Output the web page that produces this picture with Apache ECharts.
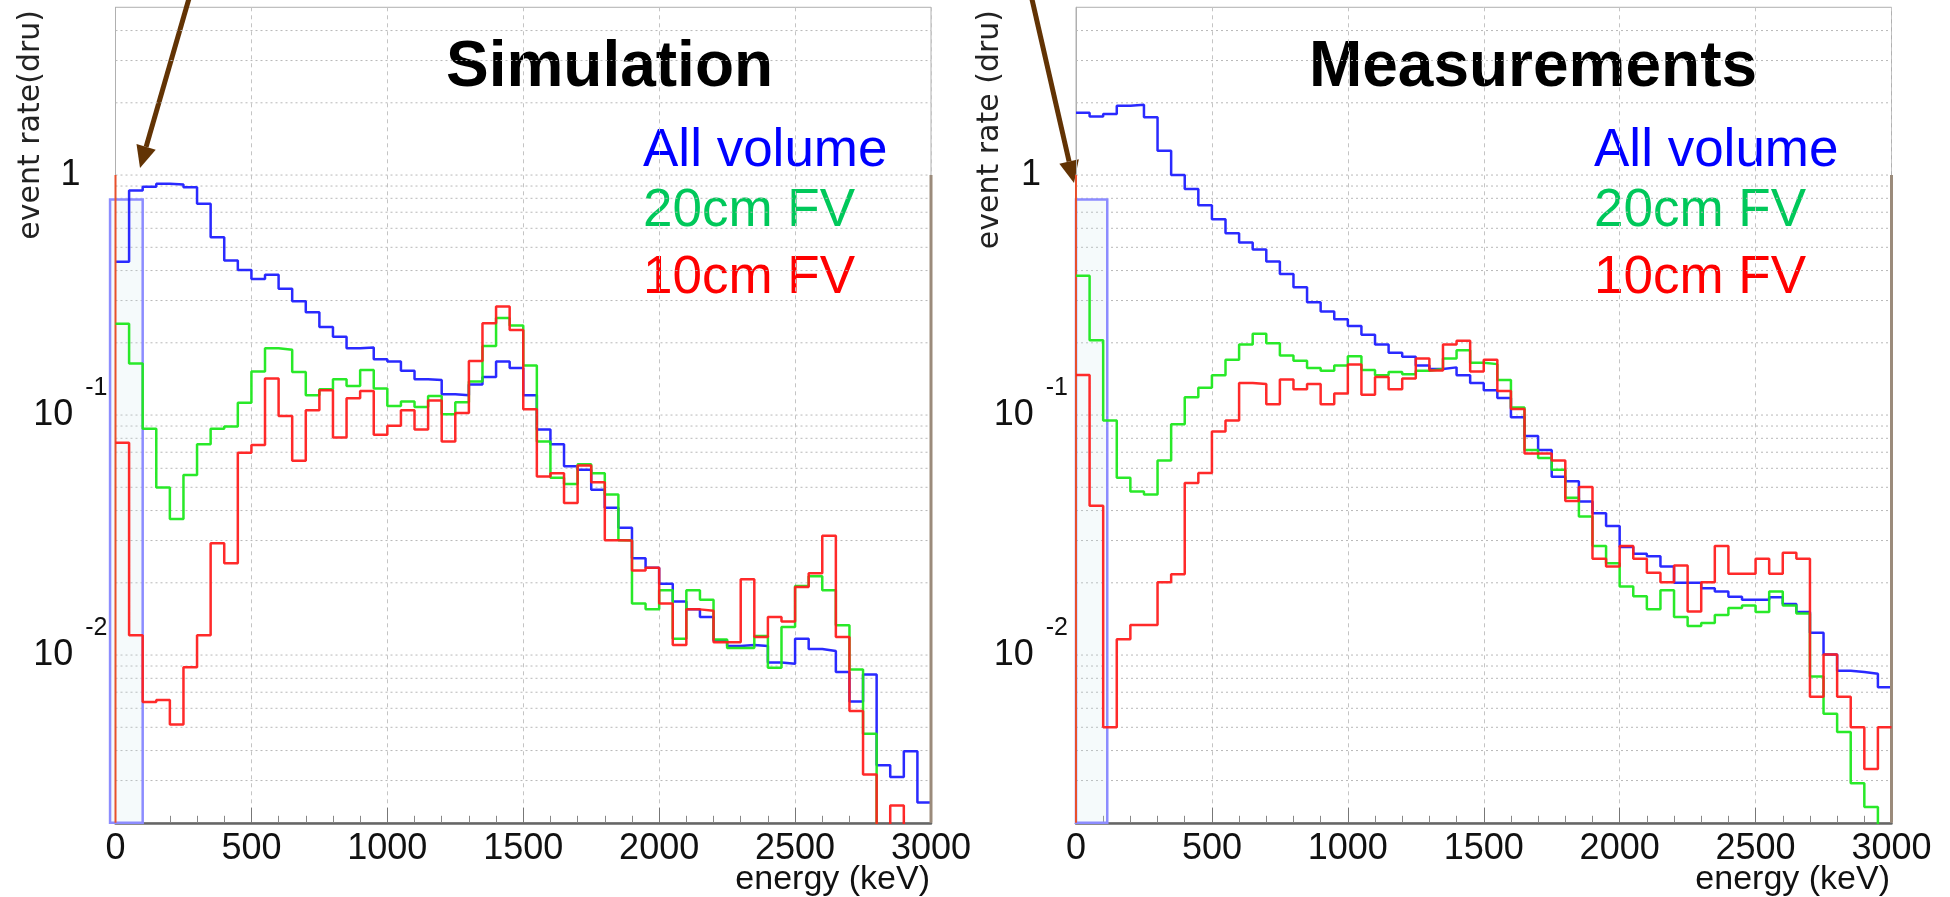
<!DOCTYPE html>
<html>
<head>
<meta charset="utf-8">
<title>event rate vs energy</title>
<script src="https://cdn.jsdelivr.net/npm/echarts@6.0.0/dist/echarts.min.js"></script>
<style>
  html, body { margin: 0; padding: 0; background: #fff; }
  #chart { width: 1950px; height: 897px; }
</style>
</head>
<body>
<div id="chart"></div>
<script>
// histogram bins: 50 keV wide, 0..3000 keV
const BIN = 50;
const X_MIN = 0, X_MAX = 3000;
const Y_MIN = 0.002, Y_MAX = 5;

// Simulation (event rate, dru)
const simAll = [0.435, 0.863, 0.894, 0.921, 0.913, 0.89, 0.759, 0.55, 0.441, 0.402,
  0.369, 0.384, 0.336, 0.298, 0.268, 0.233, 0.212, 0.19, 0.191, 0.171,
  0.167, 0.153, 0.141, 0.14, 0.122, 0.121, 0.134, 0.144, 0.167, 0.157,
  0.121, 0.087, 0.0755, 0.0612, 0.0592, 0.0488, 0.0411, 0.0339, 0.0253, 0.0231,
  0.0198, 0.0167, 0.0155, 0.0144, 0.0115, 0.0109, 0.011, 0.0109, 0.0093, 0.0092,
  0.0117, 0.0106, 0.0104, 0.0085, 0.0064, 0.0083, 0.00347, 0.0031, 0.00397, 0.00243];
const sim20 = [0.24, 0.164, 0.0877, 0.0499, 0.0369, 0.0562, 0.0755, 0.0877, 0.0897, 0.1126,
  0.152, 0.19, 0.187, 0.151, 0.121, 0.128, 0.141, 0.132, 0.154, 0.129,
  0.109, 0.114, 0.108, 0.12, 0.1007, 0.113, 0.138, 0.194, 0.254, 0.236,
  0.161, 0.0776, 0.0548, 0.0516, 0.0624, 0.0572, 0.0467, 0.0301, 0.0164, 0.0155,
  0.0186, 0.0117, 0.0186, 0.017, 0.0116, 0.0107, 0.0107, 0.012, 0.00885, 0.0131,
  0.0194, 0.0213, 0.0186, 0.0133, 0.0087, 0.0047, 0.0015, 0.0015, 0.0015, 0.0015];
const sim10 = [0.0766, 0.0121, 0.00637, 0.0065, 0.00513, 0.00889, 0.0121, 0.0292, 0.0241, 0.0697,
  0.075, 0.142, 0.099, 0.0645, 0.1047, 0.127, 0.0806, 0.1175, 0.126, 0.0828,
  0.0902, 0.1047, 0.0871, 0.115, 0.0776, 0.102, 0.168, 0.2415, 0.283, 0.226,
  0.1057, 0.0555, 0.0572, 0.043, 0.0617, 0.0525, 0.0301, 0.030, 0.0225, 0.0231,
  0.0164, 0.011, 0.0155, 0.0153, 0.0113, 0.0113, 0.0207, 0.0119, 0.0144, 0.0138,
  0.0192, 0.0219, 0.0314, 0.0119, 0.00585, 0.00318, 0.0015, 0.00236, 0.0015, 0.0015];

// Measurements (event rate, dru)
const measAll = [1.82, 1.755, 1.795, 1.946, 1.963, 1.74, 1.264, 1.0, 0.875, 0.748,
  0.654, 0.572, 0.523, 0.489, 0.436, 0.387, 0.341, 0.295, 0.27, 0.251,
  0.235, 0.216, 0.197, 0.182, 0.175, 0.161, 0.1555, 0.158, 0.1466, 0.136,
  0.127, 0.1177, 0.098, 0.0818, 0.0715, 0.0553, 0.053, 0.0436, 0.039, 0.0345,
  0.0282, 0.0264, 0.0258, 0.0234, 0.02, 0.02, 0.019, 0.0184, 0.0175, 0.017,
  0.017, 0.0174, 0.0163, 0.0151, 0.0124, 0.01005, 0.0086, 0.0085, 0.00836, 0.00734];
const meas20 = [0.381, 0.205, 0.0948, 0.0548, 0.048, 0.0467, 0.0647, 0.0916, 0.1187, 0.13,
  0.1466, 0.17, 0.197, 0.218, 0.199, 0.177, 0.1685, 0.157, 0.153, 0.161,
  0.176, 0.154, 0.1466, 0.151, 0.148, 0.153, 0.1555, 0.172, 0.186, 0.165,
  0.163, 0.140, 0.1076, 0.0715, 0.0662, 0.0592, 0.0452, 0.0378, 0.0285, 0.0241,
  0.0193, 0.0176, 0.0155, 0.0186, 0.0144, 0.0132, 0.0136, 0.0147, 0.0157, 0.0161,
  0.0151, 0.0184, 0.0161, 0.0149, 0.00814, 0.00569, 0.00478, 0.00292, 0.00233, 0.0015];
const meas10 = [0.147, 0.0419, 0.005, 0.01164, 0.01333, 0.01333, 0.0201, 0.0217, 0.0521, 0.0574,
  0.0855, 0.0948, 0.136, 0.1346, 0.1109, 0.1406, 0.128, 0.1346, 0.1109, 0.123,
  0.1625, 0.1214, 0.144, 0.128, 0.142, 0.172, 0.1535, 0.197, 0.204, 0.152,
  0.17, 0.126, 0.106, 0.0692, 0.0692, 0.0647, 0.0438, 0.0501, 0.0252, 0.0234,
  0.0285, 0.0252, 0.022, 0.0201, 0.0236, 0.0152, 0.0201, 0.0285, 0.0218, 0.0218,
  0.0252, 0.0218, 0.0267, 0.0252, 0.00671, 0.01005, 0.00671, 0.005, 0.00335, 0.005];

// light blue box over the lowest bins: [x from, x to, top]
const simBox = [[-20, 100, 0.79]];
const measBox = [[0, 115, 0.79]];

// horizontal log grid lines
const yGrid = [0.003, 0.004, 0.005, 0.006, 0.007, 0.008, 0.009,
  0.01, 0.02, 0.03, 0.04, 0.05, 0.06, 0.07, 0.08, 0.09,
  0.1, 0.2, 0.3, 0.4, 0.5, 0.6, 0.7, 0.8, 0.9, 1, 2, 3, 4];

const legendNames = ['All volume', '20cm FV', '10cm FV'];

const FONT = 'Liberation Sans, Arial, Helvetica, sans-serif';
const lineColors = ['#1f1fff', '#1ee81e', '#ff1f1f'];
const legendColors = ['#0000ff', '#00c85a', '#ff0000'];

const histPoints = (vals) => {
  const pts = vals.map((v, i) => [i * BIN, v]);
  pts.push([vals.length * BIN, vals[vals.length - 1]]);
  return pts;
};

const yLabel = (v) => {
  const lg = Math.log10(v);
  const e = Math.round(lg);
  if (Math.abs(lg - e) > 1e-6) return '';
  if (e === 0) return '{one|1}';
  if (e === -1 || e === -2) return '{b|10}{s|' + e + '}';
  return '';
};

const gridBox = (k) => ({
  left: k === 0 ? 115.5 : 1076,
  top: 7.3,
  width: 815.5,
  height: 815.5,
  show: true,
  borderColor: '#b0b0b0',
  borderWidth: 1
});

const xAxisOf = (k) => ({
  type: 'value', gridIndex: k, min: X_MIN, max: X_MAX, interval: 500,
  axisLine: { show: true, lineStyle: { color: '#666', width: 2.5 } },
  axisTick: { show: true, inside: true, length: 15, lineStyle: { color: '#777' } },
  minorTick: { show: true, splitNumber: 5, length: 7, lineStyle: { color: '#888' } },
  axisLabel: { fontSize: 36, color: '#111', fontFamily: FONT, margin: 8, formatter: (v) => String(v) },
  splitLine: { show: true, lineStyle: { color: '#c4c4c4', type: [4, 4], width: 1 } }
});

const yAxisOf = (k) => ({
  type: 'log', logBase: 10, gridIndex: k, min: Y_MIN, max: Y_MAX,
  axisLine: { show: true, lineStyle: { color: '#b0b0b0', width: 1 } },
  axisTick: { show: false },
  splitLine: { show: false },
  axisLabel: {
    margin: 8,
    formatter: yLabel,
    rich: {
      b: { fontSize: 36, lineHeight: 36, fontFamily: FONT, color: '#111', verticalAlign: 'middle' },
      s: { fontSize: 25, lineHeight: 25, fontFamily: FONT, color: '#111', verticalAlign: 'middle', padding: [0, 0, 54, 12] },
      one: { fontSize: 36, lineHeight: 36, fontFamily: FONT, color: '#111', padding: [0, 27, 0, 0] }
    }
  }
});

const gridLineSeries = (k) => ({
  type: 'custom', xAxisIndex: k, yAxisIndex: k, silent: true, z: 1,
  data: yGrid.map(v => [X_MIN, v]),
  encode: { x: 0, y: 1 },
  renderItem: (params, api) => {
    const a = api.coord([X_MIN, api.value(1)]);
    const b = api.coord([X_MAX, api.value(1)]);
    return {
      type: 'line',
      shape: { x1: a[0], y1: a[1], x2: b[0], y2: b[1] },
      style: { stroke: '#b8b8b8', lineWidth: 1, lineDash: [2, 3] }
    };
  }
});

const boxSeries = (k, box) => ({
  type: 'custom', xAxisIndex: k, yAxisIndex: k, silent: true, z: 2,
  data: box,
  encode: { x: [0, 1], y: 2 },
  renderItem: (params, api) => {
    const p0 = api.coord([api.value(0), Y_MIN]);
    const p1 = api.coord([api.value(1), api.value(2)]);
    return {
      type: 'rect',
      shape: { x: p0[0], y: p1[1], width: p1[0] - p0[0], height: p0[1] - p1[1] },
      style: { fill: 'rgba(200,225,235,0.18)', stroke: '#8c8cff', lineWidth: 2.5 }
    };
  }
});

// coloured frame edges below 1: left (red) and right (brownish)
const edgeSeries = (k) => ({
  type: 'custom', xAxisIndex: k, yAxisIndex: k, silent: true, z: 4,
  data: [[X_MIN, Y_MIN, 1], [X_MAX, Y_MIN, 1]],
  encode: { x: 0, y: [1, 2] },
  renderItem: (params, api) => {
    const a = api.coord([api.value(0), api.value(1)]);
    const b = api.coord([api.value(0), api.value(2)]);
    return {
      type: 'line',
      shape: { x1: a[0], y1: a[1], x2: b[0], y2: b[1] },
      style: { stroke: params.dataIndex === 0 ? '#e8502c' : '#9b8b7b', lineWidth: params.dataIndex === 0 ? 2 : 3 }
    };
  }
});

const histSeries = (k, vals, idx) => ({
  name: legendNames[idx],
  type: 'line', xAxisIndex: k, yAxisIndex: k,
  data: histPoints(vals),
  step: 'end',
  symbol: 'none',
  showSymbol: false,
  silent: true,
  z: 3 + idx,
  lineStyle: { color: lineColors[idx], width: 2.5, opacity: 0.95 },
  itemStyle: { color: lineColors[idx] }
});

const textEl = (text, x, y, size, color, extra) => ({
  type: 'text', x: x, y: y, silent: true,
  style: Object.assign({
    text: text, fill: color, fontSize: size, fontFamily: FONT,
    align: 'left', verticalAlign: 'middle', textAlign: 'left', textVerticalAlign: 'middle'
  }, extra || {})
});

const arrow = (x0, y0, x1, y1) => {
  const dx = x1 - x0, dy = y1 - y0;
  const len = Math.sqrt(dx * dx + dy * dy);
  const ux = dx / len, uy = dy / len;
  const hl = 22, hw = 10;
  const bx = x1 - hl * ux, by = y1 - hl * uy;
  return [
    { type: 'line', silent: true, shape: { x1: x0, y1: y0, x2: bx, y2: by },
      style: { stroke: '#623304', lineWidth: 5 } },
    { type: 'polygon', silent: true,
      shape: { points: [[x1, y1], [bx - hw * uy, by + hw * ux], [bx + hw * uy, by - hw * ux]] },
      style: { fill: '#623304' } }
  ];
};

const legendEls = (x0) => legendNames.map((name, i) =>
  textEl(name, x0, [151, 211, 278][i], 53, legendColors[i]));

const rotated = (text, x, y) => ({
  type: 'text', x: x, y: y, rotation: Math.PI / 2, silent: true,
  style: { text: text, fill: '#222', fontSize: 30, fontFamily: 'DejaVu Sans, sans-serif',
    align: 'right', verticalAlign: 'middle', textAlign: 'right', textVerticalAlign: 'middle' }
});

const option = {
  animation: false,
  backgroundColor: '#ffffff',
  grid: [gridBox(0), gridBox(1)],
  xAxis: [xAxisOf(0), xAxisOf(1)],
  yAxis: [yAxisOf(0), yAxisOf(1)],
  series: [
    gridLineSeries(0), gridLineSeries(1),
    boxSeries(0, simBox), boxSeries(1, measBox),
    histSeries(0, simAll, 0), histSeries(0, sim20, 1), histSeries(0, sim10, 2),
    histSeries(1, measAll, 0), histSeries(1, meas20, 1), histSeries(1, meas10, 2),
    edgeSeries(0), edgeSeries(1)
  ],
  graphic: [
    textEl('Simulation', 609.5, 68, 64, '#000', { fontWeight: 'bold', align: 'center', textAlign: 'center' }),
    textEl('Measurements', 1533, 68, 64, '#000', { fontWeight: 'bold', align: 'center', textAlign: 'center' }),
    ...legendEls(643),
    ...legendEls(1594),
    rotated('event rate(dru)', 31, 10),
    rotated('event rate (dru)', 990, 10),
    textEl('energy (keV)', 930, 880, 34, '#111', { align: 'right', textAlign: 'right' }),
    textEl('energy (keV)', 1890, 880, 34, '#111', { align: 'right', textAlign: 'right' }),
    ...arrow(190, -5, 140, 168),
    ...arrow(1031, -5, 1074, 183)
  ]
};

const chart = echarts.init(document.getElementById('chart'), null, { renderer: 'canvas' });
chart.setOption(option);
window.addEventListener('resize', () => chart.resize());
</script>
</body>
</html>
